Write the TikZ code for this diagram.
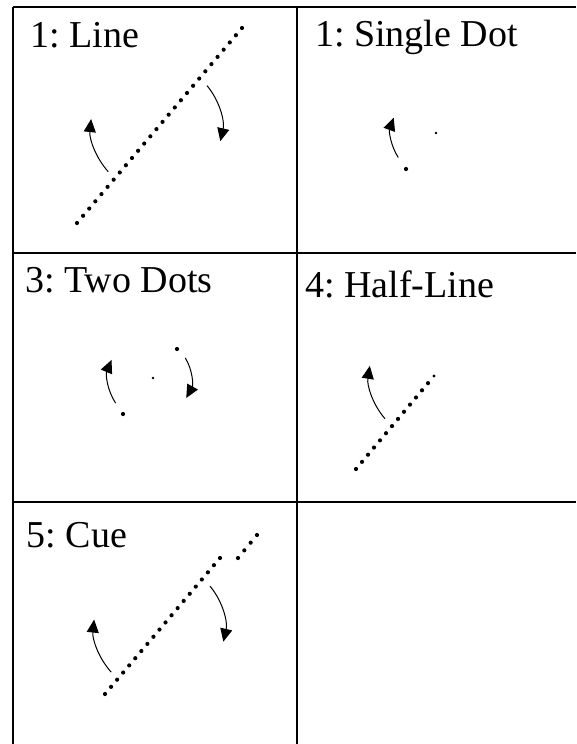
\documentclass[tikz,border=0pt]{standalone}
\usepackage{fontspec}
\setmainfont{Liberation Serif}
\usetikzlibrary{arrows.meta,calc}
\frenchspacing
\begin{document}
\begin{tikzpicture}[x=1pt,y=-1pt,
  frame/.style={line width=1.4pt,black},
  title/.style={anchor=base west,inner sep=0pt,font=\fontsize{38}{41}\selectfont},
  rot/.style={line width=1pt,-{Triangle[length=13pt,width=12pt]}},
]
\useasboundingbox (0,0) rectangle (576,744);
% frame
\draw[frame] (13,7) -- (576,7);
\draw[frame] (13,253) -- (576,253);
\draw[frame] (13,502) -- (576,502);
\draw[frame] (13,7) -- (13,744);
\draw[frame] (297,7) -- (297,744);
% titles
\node[title] (t1) at (30,47) {1: Line};
\node[title] (t2) at (315,46) {1: Single Dot};
\node[title] (t3) at (25,292) {3: Two Dots};
\node[title] (t4) at (305,297) {4: Half-Line};
\node[title] (t5) at (26.5,547) {5: Cue};
% cell 1
\coordinate (c1) at (159.5,125.5);
\coordinate (l1a) at (77,223);
\coordinate (l1b) at (242,28);
\foreach \i in {0,...,27} \fill ($(l1a)!\i/27!(l1b)$) circle[radius=2.1pt];
\draw[rot] ($(c1)+(138:69)$) arc[start angle=138,end angle=186,radius=68];
\draw[rot] ($(c1)+(-40:62)$) arc[start angle=-40,end angle=13,radius=64];
% cell 2
\coordinate (c2) at (436,133);
\fill (c2) circle[radius=1.3pt];
\fill (406,169) circle[radius=2.1pt];
\draw[rot] ($(c2)+(147:45)$) arc[start angle=147,end angle=200,radius=45];
% cell 3
\coordinate (c3) at (153,378);
\fill (c3) circle[radius=1.3pt];
\fill (123,414) circle[radius=2.1pt];
\fill (177,349) circle[radius=2.1pt];
\draw[rot] ($(c3)+(146:45)$) arc[start angle=146,end angle=203,radius=45.5];
\draw[rot] ($(c3)+(-32:38)$) arc[start angle=-32,end angle=29,radius=39.5];
% cell 4
\coordinate (p4) at (434,376);
\coordinate (l4a) at (356,469);
\foreach \i in {0,...,12} \fill ($(l4a)!\i/13!(p4)$) circle[radius=2.1pt];
\fill (p4) circle[radius=1.6pt];
\draw[rot] ($(p4)+(139:65)$) arc[start angle=139,end angle=189,radius=65];
% cell 5
\coordinate (c5) at (162.5,626);
\coordinate (l5a) at (105,694);
\coordinate (l5b) at (220,558);
\coordinate (q5a) at (238,558);
\coordinate (q5b) at (257,535);
\foreach \i in {0,...,19} \fill ($(l5a)!\i/19!(l5b)$) circle[radius=2.1pt];
\foreach \i in {0,...,3} \fill ($(q5a)!\i/3!(q5b)$) circle[radius=2.1pt];
\draw[rot] ($(c5)+(138:69)$) arc[start angle=138,end angle=186,radius=68];
\draw[rot] ($(c5)+(-40:62)$) arc[start angle=-40,end angle=13,radius=64];
\end{tikzpicture}
\end{document}
